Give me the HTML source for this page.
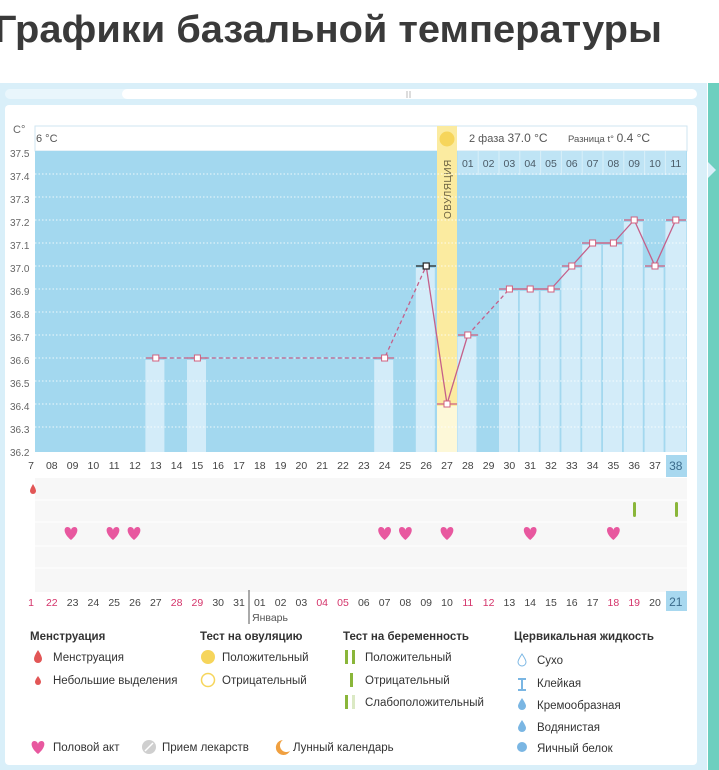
<!DOCTYPE html>
<html><head><meta charset="utf-8"><style>
html,body{margin:0;padding:0;background:#fff;width:719px;height:770px;overflow:hidden}
svg{display:block;font-family:"Liberation Sans","DejaVu Sans",sans-serif}
</style></head><body>
<svg width="719" height="770" viewBox="0 0 719 770" xmlns="http://www.w3.org/2000/svg">
<text x="-6" y="42" font-size="38" font-weight="bold" fill="#3a3a3a" textLength="668" lengthAdjust="spacingAndGlyphs">Графики базальной температуры</text>
<rect x="0" y="83" width="707" height="687" fill="#d9eff9"/>
<rect x="708" y="83" width="11" height="687" fill="#6dcfbf"/>
<polygon points="708,162 716,170 708,178" fill="#d9eff9"/>
<rect x="5" y="89" width="332" height="10" rx="5" fill="#e9f6fc"/>
<rect x="122" y="89" width="575" height="10" rx="5" fill="#fff"/>
<line x1="407" y1="91" x2="407" y2="98" stroke="#bbb"/><line x1="410" y1="91" x2="410" y2="98" stroke="#bbb"/>
<rect x="5" y="105" width="692" height="660" rx="4" fill="#fff"/>
<rect x="35" y="126" width="652" height="25" fill="#fff" stroke="#cfe6f2"/>
<text x="13" y="133" font-size="11" fill="#666">C°</text>
<text x="36" y="142" font-size="11" fill="#555">6 °C</text>
<rect x="35" y="151" width="652" height="301" fill="#a3d8ef"/>
<g font-size="10.5" fill="#4a5a66" text-anchor="middle">
<rect x="457.4" y="151" width="229" height="24" fill="#bfe4f5"/>
<g stroke="#d8eff9" stroke-width="1">
<line x1="478.2" y1="151" x2="478.2" y2="175"/><line x1="499" y1="151" x2="499" y2="175"/><line x1="519.8" y1="151" x2="519.8" y2="175"/><line x1="540.6" y1="151" x2="540.6" y2="175"/><line x1="561.4" y1="151" x2="561.4" y2="175"/><line x1="582.2" y1="151" x2="582.2" y2="175"/><line x1="603" y1="151" x2="603" y2="175"/><line x1="623.8" y1="151" x2="623.8" y2="175"/><line x1="644.6" y1="151" x2="644.6" y2="175"/><line x1="665.4" y1="151" x2="665.4" y2="175"/>
</g>
<text x="467.8" y="167">01</text><text x="488.6" y="167">02</text><text x="509.4" y="167">03</text><text x="530.2" y="167">04</text><text x="551" y="167">05</text><text x="571.8" y="167">06</text><text x="592.6" y="167">07</text><text x="613.4" y="167">08</text><text x="634.2" y="167">09</text><text x="655" y="167">10</text><text x="675.8" y="167">11</text>
</g>
<text x="469" y="142" font-size="11" fill="#555">2 фаза  <tspan font-size="12">37.0 °C</tspan></text>
<text x="568" y="142" font-size="9.5" fill="#555">Разница t°  <tspan font-size="12">0.4 °C</tspan></text>
<g fill="#d3ecf9">
<rect x="145.4" y="360" width="19" height="92"/>
<rect x="187" y="360" width="19" height="92"/>
<rect x="374.2" y="360" width="19" height="92"/>
<rect x="415.8" y="268" width="19" height="184"/>
<rect x="457.4" y="337" width="19" height="115"/>
<rect x="499" y="291" width="19" height="161"/>
<rect x="519.8" y="291" width="19" height="161"/>
<rect x="540.6" y="291" width="19" height="161"/>
<rect x="561.4" y="268" width="19" height="184"/>
<rect x="582.2" y="245" width="19" height="207"/>
<rect x="603" y="245" width="19" height="207"/>
<rect x="623.8" y="222" width="19" height="230"/>
<rect x="644.6" y="268" width="19" height="184"/>
<rect x="665.4" y="222" width="21" height="230"/>
</g>
<rect x="437" y="126" width="20" height="280" fill="#fbeba0"/>
<rect x="437" y="406" width="20" height="54" fill="#fdf8d8"/>
<circle cx="447" cy="139" r="7.5" fill="#f6d55b"/>
<text transform="translate(451,219) rotate(-90)" font-size="10" fill="#6a6040" letter-spacing="0.5">ОВУЛЯЦИЯ</text>
<g stroke="#fff" stroke-width="1" stroke-dasharray="1.5 2" opacity="0.8">
<line x1="35" y1="174" x2="687" y2="174"/><line x1="35" y1="197" x2="687" y2="197"/><line x1="35" y1="220" x2="687" y2="220"/><line x1="35" y1="243" x2="687" y2="243"/><line x1="35" y1="266" x2="687" y2="266"/><line x1="35" y1="289" x2="687" y2="289"/><line x1="35" y1="312" x2="687" y2="312"/><line x1="35" y1="335" x2="687" y2="335"/><line x1="35" y1="358" x2="687" y2="358"/><line x1="35" y1="381" x2="687" y2="381"/><line x1="35" y1="404" x2="687" y2="404"/><line x1="35" y1="427" x2="687" y2="427"/>
</g>
<g font-size="10" fill="#666">
<text x="10" y="157">37.5</text><text x="10" y="180">37.4</text><text x="10" y="203">37.3</text><text x="10" y="226">37.2</text><text x="10" y="249">37.1</text><text x="10" y="272">37.0</text><text x="10" y="295">36.9</text><text x="10" y="318">36.8</text><text x="10" y="341">36.7</text><text x="10" y="364">36.6</text><text x="10" y="387">36.5</text><text x="10" y="410">36.4</text><text x="10" y="433">36.3</text><text x="10" y="456">36.2</text>
</g>
<g fill="none" stroke="#c5608a" stroke-width="1.3">
<polyline points="155.8,358 384.6,358 426.2,266" stroke-dasharray="4 3"/>
<polyline points="467.8,335 509.4,289" stroke-dasharray="4 3"/>
<polyline points="426.2,266 447,404 467.8,335"/>
<polyline points="509.4,289 530.2,289 551,289 571.8,266 592.6,243 613.4,243 634.2,220 655,266 675.8,220"/>
</g>
<g stroke="#d0607f" stroke-width="1.2">
<line x1="146" y1="358" x2="166" y2="358"/><line x1="187" y1="358" x2="207" y2="358"/><line x1="374" y1="358" x2="394" y2="358"/><line x1="437" y1="404" x2="457" y2="404"/><line x1="458" y1="335" x2="478" y2="335"/><line x1="499" y1="289" x2="560" y2="289"/><line x1="562" y1="266" x2="582" y2="266"/><line x1="582" y1="243" x2="622" y2="243"/><line x1="624" y1="220" x2="644" y2="220"/><line x1="645" y1="266" x2="665" y2="266"/><line x1="666" y1="220" x2="686" y2="220"/>
</g>
<line x1="416" y1="266" x2="436" y2="266" stroke="#222" stroke-width="1.2"/>
<g fill="#fff" stroke="#d0607f" stroke-width="1">
<rect x="152.8" y="355" width="6" height="6"/><rect x="194.4" y="355" width="6" height="6"/><rect x="381.6" y="355" width="6" height="6"/><rect x="444" y="401" width="6" height="6"/><rect x="464.8" y="332" width="6" height="6"/><rect x="506.4" y="286" width="6" height="6"/><rect x="527.2" y="286" width="6" height="6"/><rect x="548" y="286" width="6" height="6"/><rect x="568.8" y="263" width="6" height="6"/><rect x="589.6" y="240" width="6" height="6"/><rect x="610.4" y="240" width="6" height="6"/><rect x="631.2" y="217" width="6" height="6"/><rect x="652" y="263" width="6" height="6"/><rect x="672.8" y="217" width="6" height="6"/>
</g>
<rect x="423.2" y="263" width="6" height="6" fill="#fff" stroke="#222" stroke-width="1.2"/>
<rect x="35" y="452" width="652" height="140" fill="#f7f7f7"/>
<rect x="35" y="452" width="652" height="26" fill="#fff"/>
<g stroke="#fff" stroke-width="1">
<line x1="35" y1="500" x2="687" y2="500"/><line x1="35" y1="522" x2="687" y2="522"/><line x1="35" y1="546" x2="687" y2="546"/><line x1="35" y1="568" x2="687" y2="568"/>
</g>
<rect x="666" y="455" width="21" height="22" fill="#a8d8ef"/>
<rect x="666" y="591" width="21" height="20" fill="#a8d8ef"/>
<g font-size="10.5" fill="#444" text-anchor="middle">
<text x="31" y="469">7</text><text x="51.8" y="469">08</text><text x="72.6" y="469">09</text><text x="93.4" y="469">10</text><text x="114.2" y="469">11</text><text x="135" y="469">12</text><text x="155.8" y="469">13</text><text x="176.6" y="469">14</text><text x="197.4" y="469">15</text><text x="218.2" y="469">16</text><text x="239" y="469">17</text><text x="259.8" y="469">18</text><text x="280.6" y="469">19</text><text x="301.4" y="469">20</text><text x="322.2" y="469">21</text><text x="343" y="469">22</text><text x="363.8" y="469">23</text><text x="384.6" y="469">24</text><text x="405.4" y="469">25</text><text x="426.2" y="469">26</text><text x="447" y="469">27</text><text x="467.8" y="469">28</text><text x="488.6" y="469">29</text><text x="509.4" y="469">30</text><text x="530.2" y="469">31</text><text x="551" y="469">32</text><text x="571.8" y="469">33</text><text x="592.6" y="469">34</text><text x="613.4" y="469">35</text><text x="634.2" y="469">36</text><text x="655" y="469">37</text><text x="675.8" y="470" font-size="12" fill="#3a6a8a">38</text>
</g>
<g font-size="10.5" fill="#444" text-anchor="middle">
<text x="31" y="606" fill="#d4336a">1</text><text x="51.8" y="606" fill="#d4336a">22</text><text x="72.6" y="606">23</text><text x="93.4" y="606">24</text><text x="114.2" y="606">25</text><text x="135" y="606">26</text><text x="155.8" y="606">27</text><text x="176.6" y="606" fill="#d4336a">28</text><text x="197.4" y="606" fill="#d4336a">29</text><text x="218.2" y="606">30</text><text x="239" y="606">31</text><text x="259.8" y="606">01</text><text x="280.6" y="606">02</text><text x="301.4" y="606">03</text><text x="322.2" y="606" fill="#d4336a">04</text><text x="343" y="606" fill="#d4336a">05</text><text x="363.8" y="606">06</text><text x="384.6" y="606">07</text><text x="405.4" y="606">08</text><text x="426.2" y="606">09</text><text x="447" y="606">10</text><text x="467.8" y="606" fill="#d4336a">11</text><text x="488.6" y="606" fill="#d4336a">12</text><text x="509.4" y="606">13</text><text x="530.2" y="606">14</text><text x="551" y="606">15</text><text x="571.8" y="606">16</text><text x="592.6" y="606">17</text><text x="613.4" y="606" fill="#d4336a">18</text><text x="634.2" y="606" fill="#d4336a">19</text><text x="655" y="606">20</text><text x="675.8" y="606" font-size="12" fill="#3a6a8a">21</text>
</g>
<line x1="249" y1="590" x2="249" y2="624" stroke="#555"/>
<text x="252" y="621" font-size="10.5" fill="#555">Январь</text>
<path d="M33,484 q-3,5 -3,7 a3,3 0 0 0 6,0 q0,-2 -3,-7z" fill="#e25656"/>
<rect x="633" y="502" width="3" height="15" rx="1.5" fill="#8ab63a"/>
<rect x="675" y="502" width="3" height="15" rx="1.5" fill="#8ab63a"/>
<defs><path id="h" d="M0,6 C-8.5,-1 -7.2,-7 -3.6,-7 C-1.2,-7 0,-5 0,-3.6 C0,-5 1.2,-7 3.6,-7 C7.2,-7 8.5,-1 0,6z" fill="#e8589f"/></defs>
<use href="#h" x="71" y="534"/><use href="#h" x="113" y="534"/><use href="#h" x="134" y="534"/><use href="#h" x="384.6" y="534"/><use href="#h" x="405.4" y="534"/><use href="#h" x="447" y="534"/><use href="#h" x="530.2" y="534"/><use href="#h" x="613.4" y="534"/>
<g font-size="11.5" fill="#333">
<text x="30" y="640" font-weight="bold">Менструация</text>
<text x="200" y="640" font-weight="bold">Тест на овуляцию</text>
<text x="343" y="640" font-weight="bold">Тест на беременность</text>
<text x="514" y="640" font-weight="bold">Цервикальная жидкость</text>
<text x="53" y="661">Менструация</text>
<text x="53" y="684">Небольшие выделения</text>
<text x="222" y="661">Положительный</text>
<text x="222" y="684">Отрицательный</text>
<text x="365" y="661">Положительный</text>
<text x="365" y="684">Отрицательный</text>
<text x="365" y="706">Слабоположительный</text>
<text x="537" y="664">Сухо</text>
<text x="537" y="687">Клейкая</text>
<text x="537" y="709">Кремообразная</text>
<text x="537" y="731">Водянистая</text>
<text x="537" y="752">Яичный белок</text>
<text x="53" y="751">Половой акт</text>
<text x="162" y="751">Прием лекарств</text>
<text x="293" y="751">Лунный календарь</text>
</g>
<path d="M38,650 q-4,6 -4,9 a4,4 0 0 0 8,0 q0,-3 -4,-9z" fill="#e25656"/>
<path d="M38,676 q-3,4 -3,6 a3,3 0 0 0 6,0 q0,-2 -3,-6z" fill="#e25656"/>
<circle cx="208" cy="657" r="7" fill="#f6d55b"/>
<circle cx="208" cy="680" r="6.5" fill="#fff" stroke="#f6d55b" stroke-width="1.5"/>
<rect x="345" y="650" width="3" height="14" fill="#8ab63a"/><rect x="352" y="650" width="3" height="14" fill="#8ab63a"/>
<rect x="350" y="673" width="3" height="14" fill="#8ab63a"/>
<rect x="345" y="695" width="3" height="14" fill="#8ab63a"/><rect x="352" y="695" width="3" height="14" fill="#dbe9c4"/>
<path d="M522,654 q-4,6 -4,8 a4,4 0 0 0 8,0 q0,-2 -4,-8z" fill="#fff" stroke="#7ab6e3"/>
<path d="M518,679 h8 M518,690 h8 M522,679 v11" stroke="#7ab6e3" stroke-width="2"/>
<path d="M522,698 q-4,6 -4,8 a4,4 0 0 0 8,0 q0,-2 -4,-8z" fill="#7ab6e3"/>
<path d="M522,720 q-4,6 -4,8 a4,4 0 0 0 8,0 q0,-2 -4,-8z" fill="#7ab6e3"/>
<circle cx="522" cy="747" r="5" fill="#7ab6e3"/>
<use href="#h" x="38" y="748"/>
<circle cx="149" cy="747" r="7" fill="#cfcfcf"/><line x1="145" y1="751" x2="153" y2="743" stroke="#fff" stroke-width="1.5"/>
<path d="M283,740 a7.5,7.5 0 1 0 7,11 a6,6 0 0 1 -7,-11z" fill="#f0a040"/>
</svg>
</body></html>
